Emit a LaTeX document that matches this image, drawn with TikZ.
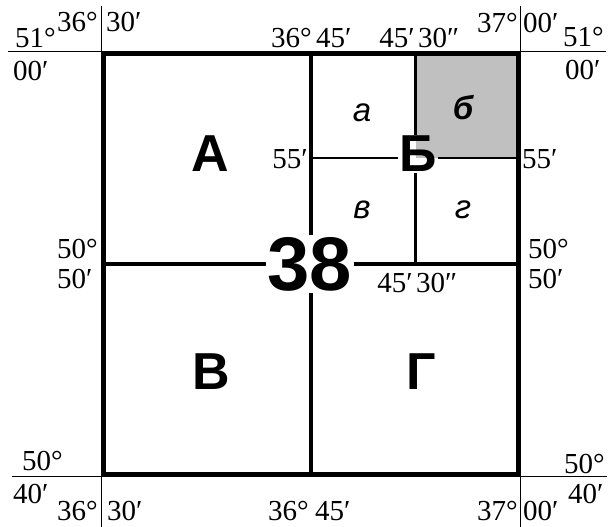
\documentclass[tikz,border=0pt]{standalone}
\usepackage{fontspec}
\setmainfont{Liberation Serif}
\newfontfamily\sansfam{Liberation Sans}
\usepackage{xcolor}
\usetikzlibrary{positioning}
\definecolor{cellgray}{RGB}{192,192,192}

\begin{document}
\begin{tikzpicture}[
      x=1pt, y=-1pt,
      lab/.style={inner sep=0pt, font=\fontsize{29}{29}\selectfont},
      sheet/.style={inner sep=1pt, font=\sansfam\bfseries\fontsize{52}{52}\selectfont},
      cell/.style={inner sep=0pt, font=\sansfam\itshape\fontsize{33}{33}\selectfont},
      thin/.style={line width=1.2pt},
      mid/.style={line width=3.3pt},
      inner/.style={line width=2.3pt}
    ]
      \useasboundingbox (0,0) rectangle (608,527);

      % frame corners and grid points
      \coordinate (tl) at (103.5,53.5);
      \coordinate (br) at (518.5,474.5);
      \coordinate (tm) at (311,53.5);
      \coordinate (bm) at (311,474.5);
      \coordinate (lm) at (103.5,264);
      \coordinate (rm) at (518.5,264);
      \coordinate (ti) at (415.5,53.5);
      \coordinate (ci) at (415.5,264);
      \coordinate (li) at (311,158);
      \coordinate (ri) at (518.5,158);

      \fill[cellgray] (ti) rectangle (ri);

      % extension lines
      \draw[thin] (8,51.8) -- (606,51.8);
      \draw[thin] (12,476.4) -- (607,476.4);
      \draw[thin] (101.2,6) -- (101.2,527);
      \draw[thin] (520.6,6) -- (520.6,527);

      % sheet numbers
      \node[sheet, font=\sansfam\bfseries\fontsize{76}{76}\selectfont, inner sep=2pt] (n38) at (310,264) {38};
      \node[sheet] (sA) at (210,154) {А};
      \node[sheet] (sB) at (418,154) {Б};
      \node[sheet] (sV) at (211,372) {В};
      \node[sheet] (sG) at (421,372) {Г};

      \node[cell] (ca) at (362,113) {а};
      \node[cell, font=\sansfam\bfseries\itshape\fontsize{33}{33}\selectfont] (cb) at (463,108) {б};
      \node[cell] (cv) at (362,210) {в};
      \node[cell] (cg) at (463,210) {г};

      % grid lines
      \draw[inner] (li) -- (li -| sB.west);
      \draw[inner] (ri -| sB.east) -- (ri);
      \draw[inner] (ti) -- (ti |- sB.north);
      \draw[inner] (ci |- sB.south) -- (ci);
      \draw[mid] (lm) -- (lm -| n38.west);
      \draw[mid] (rm -| n38.east) -- (rm);
      \draw[mid] (tm) -- (tm |- n38.north);
      \draw[mid] (bm |- n38.south) -- (bm);
      \draw[line width=5.2pt] (tl) rectangle (br);

      % coordinates, top
      \node[lab, anchor=base west] (t51) at (15,48) {51°};
      \node[lab, anchor=base east] (t36) at (98,32) {36°};
      \node[lab, anchor=base west] (t30) at (106,32) {30′};
      \node[lab, anchor=base west] (t00) at (13,81) {00′};
      \node[lab, anchor=base east] (tm36) at (312,48) {36°};
      \node[lab, anchor=base west] (tm45) at (316,48) {45′};
      \node[lab, anchor=base east] (ti45) at (415,48) {45′};
      \node[lab, anchor=base west] (ti30) at (418,48) {30″};
      \node[lab, anchor=base east] (t37) at (518,33) {37°};
      \node[lab, anchor=base west] (tr00) at (523,33) {00′};
      \node[lab, anchor=base east] (r51) at (604,47) {51°};
      \node[lab, anchor=base west] (r00) at (565,80) {00′};

      % coordinates, middle
      \node[lab, anchor=base east] (l55) at (308,168) {55′};
      \node[lab, anchor=base west] (r55) at (522,168) {55′};
      \node[lab, anchor=base west] (l50d) at (57,258) {50°};
      \node[lab, anchor=base west] (l50m) at (57,288) {50′};
      \node[lab, anchor=base west] (r50d) at (528,258) {50°};
      \node[lab, anchor=base west] (r50m) at (528,288) {50′};
      \node[lab, anchor=base east] (c45) at (413,292) {45′};
      \node[lab, anchor=base west] (c30) at (416,292) {30″};

      % coordinates, bottom
      \node[lab, anchor=base west] (b50) at (22,470) {50°};
      \node[lab, anchor=base west] (b40) at (13,503) {40′};
      \node[lab, anchor=base east] (b36) at (98,520) {36°};
      \node[lab, anchor=base west] (b30) at (107,520) {30′};
      \node[lab, anchor=base west] (bm36) at (268,520) {36°};
      \node[lab, anchor=base west] (bm45) at (315,520) {45′};
      \node[lab, anchor=base east] (br50) at (605,473) {50°};
      \node[lab, anchor=base west] (br40) at (568,503) {40′};
      \node[lab, anchor=base east] (b37) at (518,520) {37°};
      \node[lab, anchor=base west] (b00) at (523,520) {00′};
    \end{tikzpicture}
\end{document}
